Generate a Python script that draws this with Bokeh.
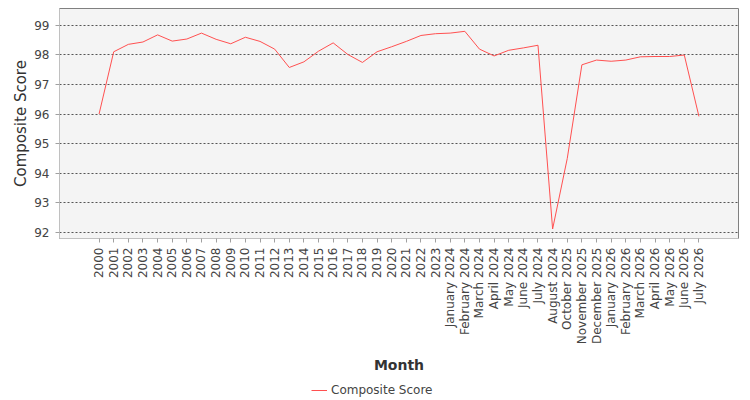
from bokeh.plotting import figure
from bokeh.models import FactorRange, Range1d, Legend, LegendItem, FixedTicker
from bokeh.layouts import column
from bokeh.embed import file_html
from bokeh.resources import INLINE
import math

months = [str(y) for y in range(2000, 2024)] + [
    "January 2024", "February 2024", "March 2024", "April 2024", "May 2024",
    "June 2024", "July 2024", "August 2024", "October 2025", "November 2025",
    "December 2025", "January 2026", "February 2026", "March 2026", "April 2026",
    "May 2026", "June 2026", "July 2026",
]
composite_score = [
    96.00, 98.10, 98.35, 98.43, 98.67, 98.46, 98.53, 98.73, 98.52, 98.37,
    98.59, 98.45, 98.19, 97.57, 97.76, 98.12, 98.40, 98.01, 97.74, 98.10,
    98.27, 98.45, 98.65, 98.71, 98.73, 98.79, 98.19, 97.96, 98.15, 98.23,
    98.32, 92.12, 94.50, 97.66, 97.82, 97.78, 97.82, 97.93, 97.94, 97.94,
    97.99, 95.92,
]
y_ticks = [92, 93, 94, 95, 96, 97, 98, 99]
series_name = "Composite Score"

FONT = "DejaVu Sans"
LINE_COLOR = "#ff5050"

p = figure(
    width=750, height=376,
    x_range=FactorRange(factors=months, range_padding=0.105),
    y_range=Range1d(91.8, 99.56),
    output_backend="svg", toolbar_location=None,
    min_border_left=59, min_border_right=12, min_border_top=8, min_border_bottom=138,
)
p.background_fill_color = "#f4f4f4"
p.border_fill_color = "white"
p.outline_line_color = "#808080"
p.outline_line_width = 1

p.line(months, composite_score, line_color=LINE_COLOR, line_width=1)

p.xgrid.grid_line_color = None
p.ygrid.grid_line_color = "#555555"
p.ygrid.grid_line_dash = "2 2"
p.ygrid.grid_line_width = 1

p.yaxis.ticker = FixedTicker(ticks=y_ticks)
for ax in (p.xaxis[0], p.yaxis[0]):
    ax.axis_line_color = "#c0c0c0"
    ax.major_tick_line_color = "#a0a0a0"
    ax.minor_tick_line_color = None
    ax.major_tick_in = 0
    ax.major_tick_out = 4
    ax.major_label_text_font = FONT
    ax.major_label_text_font_size = "12px"
    ax.major_label_text_color = "#444444"
    ax.axis_label_text_font = FONT
    ax.axis_label_text_font_size = "14px"
    ax.axis_label_text_color = "#333333"

p.xaxis.axis_label = "Month"
p.xaxis.axis_label_text_font_style = "bold"
p.xaxis.major_label_orientation = math.pi / 2
p.xaxis.axis_label_standoff = 10
p.yaxis.axis_label = series_name
p.yaxis.axis_label_text_font_style = "normal"
p.yaxis.axis_label_text_font_size = "15px"
p.yaxis.axis_label_standoff = 1
p.yaxis.major_label_standoff = 6

# legend strip below the chart (proxy renderer lies outside the strip's ranges)
lg = figure(
    width=750, height=24,
    x_range=Range1d(0, 1), y_range=Range1d(0, 1),
    output_backend="svg", toolbar_location=None,
    min_border=0,
)
lg.axis.visible = False
lg.grid.visible = False
lg.outline_line_color = None
lr = lg.line(x=[-5, -4], y=[-5, -4], line_color=LINE_COLOR, line_width=1)
legend = Legend(
    items=[LegendItem(label=series_name, renderers=[lr])],
    orientation="horizontal", location=(252, 0),
    label_text_font=FONT, label_text_font_size="12px", label_text_color="#444444",
    label_standoff=4,
    border_line_color=None, background_fill_alpha=0,
    glyph_width=16, padding=2, margin=0,
)
lg.add_layout(legend)

layout = column(p, lg, spacing=0)
open("out.html", "w").write(file_html(layout, INLINE))
